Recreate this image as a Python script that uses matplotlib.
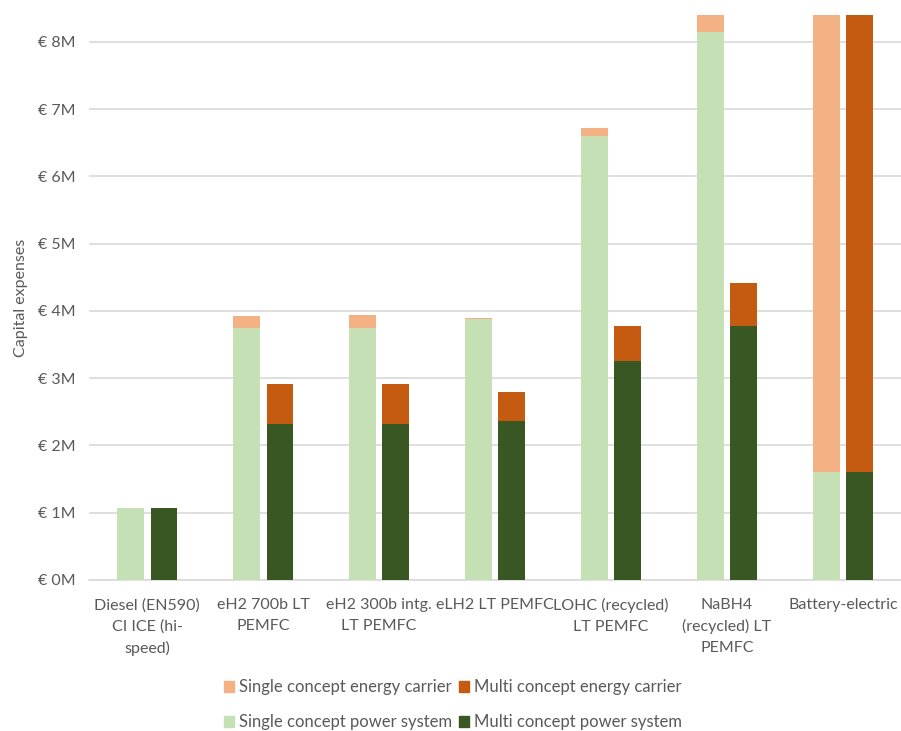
import numpy as np
import matplotlib.pyplot as plt
from matplotlib.patches import Patch
from matplotlib.ticker import FuncFormatter

plt.rcParams['font.family'] = ['Lato', 'DejaVu Sans']

# categories and values (million EUR)
categories = [
    "Diesel (EN590)\nCI ICE (hi-\nspeed)",
    "eH2 700b LT\nPEMFC",
    "eH2 300b intg.\nLT PEMFC",
    "eLH2 LT PEMFC",
    "LOHC (recycled)\nLT PEMFC",
    "NaBH4\n(recycled) LT\nPEMFC",
    "Battery-electric",
]
single_power = [1.07, 3.75, 3.75, 3.88, 6.60, 8.14, 1.61]
single_carrier = [0.0, 0.18, 0.19, 0.02, 0.12, 0.35, 9.0]
multi_power = [1.07, 2.32, 2.32, 2.36, 3.26, 3.77, 1.61]
multi_carrier = [0.0, 0.60, 0.60, 0.44, 0.52, 0.65, 9.0]

c_single_carrier = "#F4B183"
c_multi_carrier = "#C55A11"
c_single_power = "#C5E0B4"
c_multi_power = "#385723"
grey = "#595959"

fig = plt.figure(figsize=(9.01, 7.31), dpi=100)
ax = fig.add_axes([0.099, 0.2066, 0.901, 0.7729])

x = np.arange(len(categories))
w = 0.228
off = 0.143

ax.bar(x - off, single_power, w, color=c_single_power, zorder=3)
ax.bar(x - off, single_carrier, w, bottom=single_power, color=c_single_carrier, zorder=3)
ax.bar(x + off, multi_power, w, color=c_multi_power, zorder=3)
ax.bar(x + off, multi_carrier, w, bottom=multi_power, color=c_multi_carrier, zorder=3)

ax.set_xlim(-0.5, len(categories) - 0.5)
ax.set_ylim(0, 8.4)
ax.set_yticks(np.arange(0, 9, 1))
ax.yaxis.set_major_formatter(FuncFormatter(lambda v, p: f"€ {int(v)}M"))
ax.set_xticks(x)
ax.set_xticklabels(categories, linespacing=1.6)

ax.grid(axis='y', color="#D9D9D9", linewidth=1.2, zorder=0)
for s in ['top', 'right', 'left']:
    ax.spines[s].set_visible(False)
ax.spines['bottom'].set_color("#D9D9D9")
ax.spines['bottom'].set_linewidth(1.2)
ax.tick_params(length=0, colors=grey, labelsize=11.5)
ax.tick_params(axis='y', pad=10)
ax.tick_params(axis='x', pad=13)
ax.set_ylabel("Capital expenses", color=grey, fontsize=11.5, labelpad=7)

handles = [
    Patch(color=c_single_carrier, label="Single concept energy carrier"),
    Patch(color=c_single_power, label="Single concept power system"),
    Patch(color=c_multi_carrier, label="Multi concept energy carrier"),
    Patch(color=c_multi_power, label="Multi concept power system"),
]
leg = fig.legend(handles=handles, ncol=2, loc='center', bbox_to_anchor=(0.503, 0.036),
                 frameon=False, fontsize=12, handlelength=0.6, handleheight=0.6,
                 handletextpad=0.3, columnspacing=0.4, labelspacing=1.15)
for t in leg.get_texts():
    t.set_color(grey)

fig.savefig("out.png", dpi=100)
